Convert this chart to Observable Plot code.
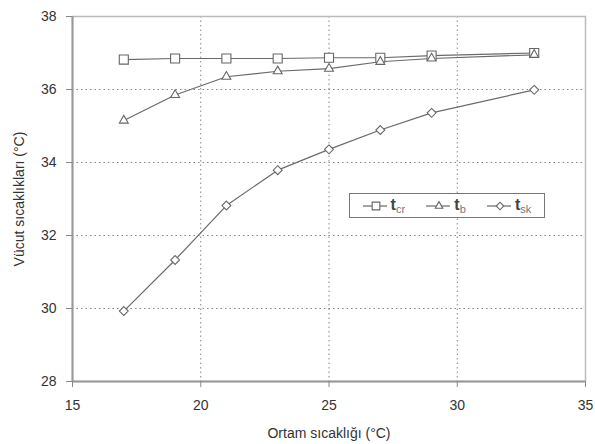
<!DOCTYPE html>
<html>
<head>
<meta charset="utf-8">
<script src="https://cdn.jsdelivr.net/npm/d3@7"></script>
<script src="https://cdn.jsdelivr.net/npm/@observablehq/plot@0.6"></script>
<style>
  html, body { margin: 0; padding: 0; background: #fff; }
  #wrap { position: relative; width: 595px; height: 444px; font-family: "Liberation Sans", Arial, sans-serif; }
  #legend { position: absolute; left: 349px; top: 193px; width: 190px; height: 23px; border: 1.5px solid #777; background: #fff;
    display: flex; align-items: center; justify-content: space-around; font-size: 16px; color: #444; padding: 0 2px; }
  #legend .item { display: flex; align-items: center; }
  #legend b { font-weight: bold; margin-left: 4px; }
  #legend sub { font-size: 11px; color: #777; font-weight: normal; vertical-align: -3px; }
</style>
</head>
<body>
<div id="wrap"></div>
<script>
const ambientTemp = [17, 19, 21, 23, 25, 27, 29, 33];
const tCr = [36.82, 36.85, 36.85, 36.85, 36.87, 36.87, 36.93, 37.0];
const tB  = [35.15, 35.85, 36.35, 36.5, 36.57, 36.76, 36.85, 36.95];
const tSk = [29.93, 31.33, 32.82, 33.79, 34.36, 34.89, 35.36, 35.99];
const xTicks = [15, 20, 25, 30, 35];
const yTicks = [28, 30, 32, 34, 36, 38];
const seriesNames = ["cr", "b", "sk"];
const seriesSymbols = ["square", "triangle", "diamond2"];
const seriesRadii = [5.1, 3.3, 4.0];

const seriesValues = [tCr, tB, tSk];
const rows = seriesNames.flatMap((s, i) => ambientTemp.map((x, j) => ({series: s, x, y: seriesValues[i][j]})));

const lineColor = "#6a6a6a";
const markerColor = "#666";
const chart = Plot.plot({
  width: 595,
  height: 444,
  marginTop: 16,
  marginRight: 10,
  marginBottom: 63,
  marginLeft: 72,
  style: {fontFamily: "'Liberation Sans', Arial, sans-serif", fontSize: "14px", color: "#333", background: "#fff"},
  x: {domain: [15, 35]},
  y: {domain: [28, 38]},
  marks: [
    Plot.gridX([20, 25, 30], {stroke: "#666", strokeOpacity: 0.8, strokeDasharray: "1.5,3"}),
    Plot.gridY([30, 32, 34, 36], {stroke: "#666", strokeOpacity: 0.8, strokeDasharray: "1.5,3"}),
    Plot.frame({stroke: "#bbb", strokeWidth: 1.5}),
    Plot.ruleX([15], {stroke: "#999", strokeWidth: 2}),
    Plot.ruleY([28], {stroke: "#999", strokeWidth: 2}),
    Plot.axisX({ticks: xTicks, tickSize: 6, tickPadding: 13, stroke: "#888", fontSize: 14,
      label: "Ortam sıcaklığı (°C)", labelAnchor: "center", labelArrow: "none", labelOffset: 56}),
    Plot.axisY({ticks: yTicks, tickSize: 6, tickPadding: 10, stroke: "#888", fontSize: 14,
      label: "Vücut sıcaklıkları (°C)", labelAnchor: "center", labelArrow: "none", labelOffset: 58}),
    Plot.line(rows, {x: "x", y: "y", z: "series", stroke: lineColor, strokeWidth: 1.2}),
    ...seriesNames.map((s, i) =>
      Plot.dot(rows.filter(d => d.series === s), {x: "x", y: "y", symbol: seriesSymbols[i], r: seriesRadii[i],
        fill: "#fff", stroke: markerColor, strokeWidth: 1.1}))
  ]
});
const wrap = document.getElementById("wrap");
wrap.appendChild(chart);

// legend
const legend = document.createElement("div");
legend.id = "legend";
const d3syms = [d3.symbolSquare, d3.symbolTriangle, d3.symbolDiamond2];
seriesNames.forEach((s, i) => {
  const item = document.createElement("div");
  item.className = "item";
  const svg = d3.create("svg").attr("width", 24).attr("height", 14);
  svg.append("line").attr("x1", 0).attr("x2", 24).attr("y1", 7).attr("y2", 7).attr("stroke", lineColor).attr("stroke-width", 1.2);
  svg.append("path").attr("d", d3.symbol(d3syms[i], Math.PI * (seriesRadii[i] * 0.85) ** 2)()).attr("transform", "translate(13,7)")
    .attr("fill", "#fff").attr("stroke", markerColor).attr("stroke-width", 1.1);
  item.appendChild(svg.node());
  const t = document.createElement("b");
  t.innerHTML = "t<sub>" + s + "</sub>";
  item.appendChild(t);
  legend.appendChild(item);
});
wrap.appendChild(legend);
</script>
</body>
</html>
